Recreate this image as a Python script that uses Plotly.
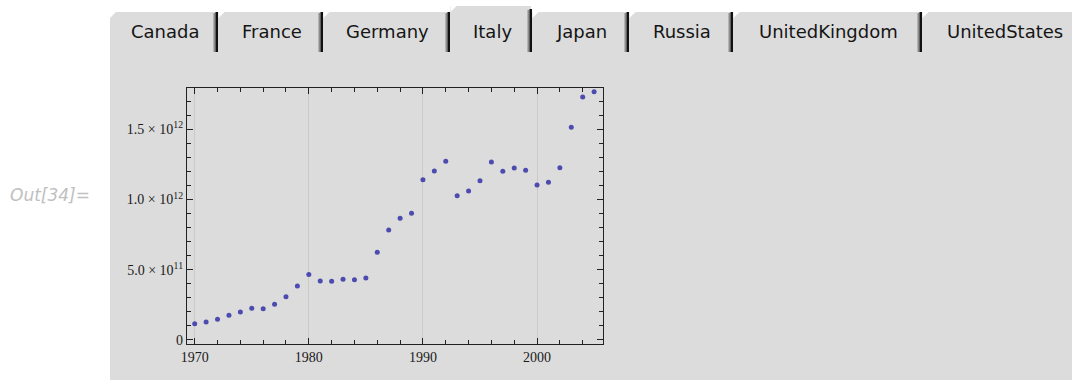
import plotly.graph_objects as go

# Italy, nominal GDP (US$) by year
years = list(range(1970, 2006))
gdp = [
    0.115e12, 0.127e12, 0.147e12, 0.175e12, 0.199e12, 0.225e12, 0.222e12, 0.254e12,
    0.308e12, 0.384e12, 0.466e12, 0.420e12, 0.417e12, 0.432e12, 0.429e12, 0.441e12,
    0.624e12, 0.783e12, 0.866e12, 0.902e12, 1.141e12, 1.203e12, 1.272e12, 1.027e12,
    1.061e12, 1.134e12, 1.267e12, 1.201e12, 1.224e12, 1.208e12, 1.103e12, 1.123e12,
    1.226e12, 1.514e12, 1.730e12, 1.768e12,
]

tab_names = ["Canada", "France", "Germany", "Italy", "Japan",
             "Russia", "UnitedKingdom", "UnitedStates"]
selected_tab = "Italy"

y_tickvals = [0, 5e11, 1e12, 1.5e12]
y_ticktext = ["0", "5.0 × 10<sup>11</sup>", "1.0 × 10<sup>12</sup>", "1.5 × 10<sup>12</sup>"]
x_tickvals = [1970, 1980, 1990, 2000]
x_ticktext = ["1970", "1980", "1990", "2000"]

# ---- page geometry (pixels) ----
W, H = 1072, 380
PL, PR, PT, PB = 187, 603, 88, 344          # plot frame
PW, PH = PR - PL, PB - PT


def fx(x):
    return (x - PL) / PW


def fy(y):
    return (PB - y) / PH


PANEL_BG = "#dcdcdc"
tab_edges = [110, 217, 322, 449, 531, 628, 732, 921, 1085]

shapes = []
annotations = []

# notebook output panel with tab strip
shapes.append(dict(type="rect", xref="paper", yref="paper", layer="below",
                   x0=fx(110), x1=fx(1080), y0=fy(12), y1=fy(385),
                   fillcolor=PANEL_BG, line=dict(width=0)))
sel = tab_names.index(selected_tab)
shapes.append(dict(type="rect", xref="paper", yref="paper", layer="below",
                   x0=fx(tab_edges[sel] + 1), x1=fx(tab_edges[sel + 1]), y0=fy(6), y1=fy(13),
                   fillcolor=PANEL_BG, line=dict(width=0)))

for i, name in enumerate(tab_names):
    left, right = tab_edges[i], tab_edges[i + 1]
    top = 6 if i == sel else 12
    # bevelled top-left corner of each tab
    lx = left if i == 0 else left + 1.5
    shapes.append(dict(type="path", xref="paper", yref="paper", layer="below",
                       path=f"M {fx(lx)} {fy(top - 1)} L {fx(lx + 6)} {fy(top - 1)} "
                            f"L {fx(lx + 6)} {fy(top)} L {fx(lx)} {fy(top + 6)} Z",
                       fillcolor="white", line=dict(width=0)))
    # separator on the right of each tab (shadow + dark bar)
    if i < len(tab_names) - 1:
        stop = 9 if (i == sel) else 12
        shapes.append(dict(type="rect", xref="paper", yref="paper", layer="below",
                           x0=fx(right - 3.5), x1=fx(right - 1.5), y0=fy(stop + 1), y1=fy(52),
                           fillcolor="#8c8c8c", line=dict(width=0)))
        shapes.append(dict(type="rect", xref="paper", yref="paper", layer="below",
                           x0=fx(right - 1.5), x1=fx(right + 1.0), y0=fy(stop), y1=fy(52),
                           fillcolor="#111111", line=dict(width=0)))
    annotations.append(dict(xref="paper", yref="paper", x=fx((left + right) / 2 + 2), y=fy(31),
                            xanchor="center", yanchor="middle", showarrow=False, text=name,
                            font=dict(family="DejaVu Sans", size=18, color="#151515")))

annotations.append(dict(xref="paper", yref="paper", x=fx(8), y=fy(195),
                        xanchor="left", yanchor="middle", showarrow=False, text="<i>Out[34]=</i>",
                        font=dict(family="DejaVu Sans", size=17, color="#c0c0c0")))

fig = go.Figure()
fig.add_trace(go.Scatter(
    x=years, y=gdp, mode="markers",
    marker=dict(size=5, color="#4b4bb0", line=dict(width=0)),
    hoverinfo="x+y", showlegend=False,
))

axis_font = dict(family="Liberation Serif", size=14, color="#1a1a1a")
fig.update_xaxes(
    range=[1969.325, 2005.78],
    tickmode="array", tickvals=x_tickvals, ticktext=x_ticktext,
    ticks="inside", ticklen=6, tickwidth=1, tickcolor="#222222",
    minor=dict(tickmode="linear", tick0=1970, dtick=2, ticks="inside",
               ticklen=4, tickwidth=1, tickcolor="#222222", showgrid=False),
    showgrid=True, gridcolor="#cacaca", gridwidth=1,
    showline=True, linecolor="#222222", linewidth=1.3, mirror="allticks",
    zeroline=False, tickfont=axis_font,
)
fig.update_yaxes(
    range=[-0.0292e12, 1.794e12],
    tickmode="array", tickvals=y_tickvals, ticktext=y_ticktext,
    ticks="inside", ticklen=6, tickwidth=1, tickcolor="#222222",
    minor=dict(tickmode="linear", tick0=0, dtick=1e11, ticks="inside",
               ticklen=3.5, tickwidth=1, tickcolor="#222222", showgrid=False),
    showgrid=False,
    showline=True, linecolor="#222222", linewidth=1.3, mirror="allticks",
    zeroline=False, tickfont=axis_font,
)

fig.update_layout(
    width=W, height=H,
    margin=dict(l=PL, r=W - PR, t=PT, b=H - PB, autoexpand=False),
    paper_bgcolor="white", plot_bgcolor="rgba(0,0,0,0)",
    shapes=shapes, annotations=annotations,
    showlegend=False,
)

fig.write_html("out.html")
